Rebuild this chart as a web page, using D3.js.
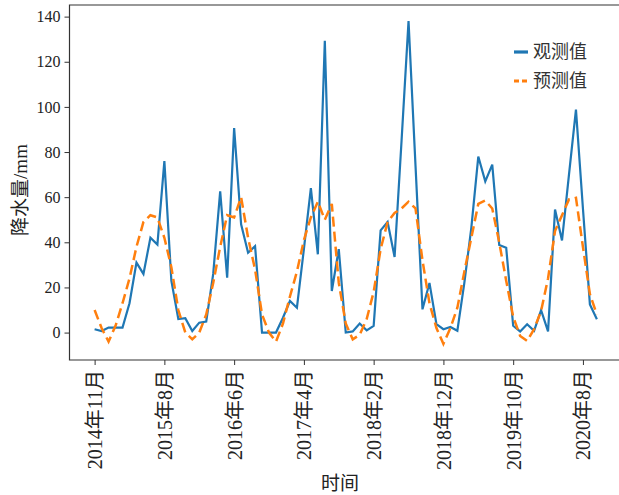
<!DOCTYPE html>
<html>
<head>
<meta charset="utf-8">
<script src="https://cdn.jsdelivr.net/npm/d3@7"></script>
<style>
  body { margin: 0; background: #fff; }
  text { font-family: "Liberation Serif", "Noto Sans CJK SC", serif; fill: #222; }
</style>
</head>
<body>
<svg id="chart" width="619" height="495"></svg>
<script>
// 观测值（月降水量, mm）
const observed = [1.5, 0.7, 2.2, 2.2, 2.2, 13, 31, 26, 42, 39, 76, 23,
    6, 6.4, 0.7, 4.4, 4.9, 26, 62.6, 24.3, 90.6, 48, 35.4, 38.3,
    0, 0, 0, 6.6, 14, 11, 37, 64, 34.7, 129.3, 18.4, 37,
    0, 0.5, 4, 1, 3, 45.3, 49, 33.5, 85, 138, 74, 10.3,
    22, 3.7, 1.5, 2.5, 0.8, 22, 46.4, 78, 67, 74.4, 38.8, 37.6,
    3, 0.5, 3.7, 0.8, 9.9, 0.5, 54.5, 40.8, 70, 98.8, 55, 12.5, 5.9];
// 预测值
const predicted = [10, 2, -4, 3, 13, 24, 38, 49, 52, 51, 42, 29,
    10, 0, -3, 0, 8, 22, 38, 52, 51, 60, 42, 28,
    8, 0, -4, 4, 16, 27, 41, 51, 58, 50, 57, 22,
    4, -3, -1, 6, 18, 37, 49, 53, 55, 58, 55, 32,
    13, 2, -5, 2, 11, 27, 42, 57, 58.5, 55, 40, 23,
    7, -1.5, -3.7, 1.5, 9.6, 24, 45, 52, 59, 59.7, 38, 17, 8];
const xTickIndex = [0, 10, 20, 30, 40, 50, 60, 70];
const xTickLabels = ["2014年11月", "2015年8月", "2016年6月", "2017年4月",
    "2018年2月", "2018年12月", "2019年10月", "2020年8月"];
const yTicks = [0, 20, 40, 60, 80, 100, 120, 140];
const seriesNames = ["观测值", "预测值"];

const svg = d3.select("#chart");
const plotL = 69.5, plotR = 622, plotT = 5, plotB = 360;

const n = observed.length - 1;
const x = d3.scaleLinear().domain([-n * 0.05, n * 1.05]).range([plotL, plotR]);
const all = observed.concat(predicted);
const lo = d3.min(all), hi = d3.max(all), pad = (hi - lo) * 0.05;
const y = d3.scaleLinear().domain([lo - pad, hi + pad]).range([plotB, plotT]);

// x轴
const xAxis = svg.append("g")
    .attr("transform", `translate(0,${plotB})`)
    .call(d3.axisBottom(x).tickValues(xTickIndex).tickFormat((d, i) => xTickLabels[i]).tickSize(5).tickSizeOuter(0));
xAxis.select(".domain").remove();
xAxis.selectAll("line").attr("stroke", "#333");
xAxis.selectAll("text")
    .attr("transform", "rotate(-90)")
    .attr("text-anchor", "end")
    .attr("dominant-baseline", "central")
    .attr("x", -10)
    .attr("y", 0)
    .attr("dy", null)
    .style("font-size", "20px");

// y轴
const yAxis = svg.append("g")
    .attr("transform", `translate(${plotL},0)`)
    .call(d3.axisLeft(y).tickValues(yTicks).tickSize(5).tickPadding(4));
yAxis.select(".domain").remove();
yAxis.selectAll("line").attr("stroke", "#333");
yAxis.selectAll("text").style("font-size", "16px");

// 边框
svg.append("path")
    .attr("d", `M${plotR},${plotT} H${plotL} V${plotB} H${plotR}`)
    .attr("fill", "none")
    .attr("stroke", "#333")
    .attr("stroke-width", 1.2);

const line = d3.line().x((d, i) => x(i)).y(d => y(d));

svg.append("path")
    .datum(observed)
    .attr("d", line)
    .attr("fill", "none")
    .attr("stroke", "#1f77b4")
    .attr("stroke-width", 2.2);

svg.append("path")
    .datum(predicted)
    .attr("d", line)
    .attr("fill", "none")
    .attr("stroke", "#ff7f0e")
    .attr("stroke-width", 2.5)
    .attr("stroke-dasharray", "10,5");

// 坐标轴标题
svg.append("text")
    .attr("transform", `translate(20,190) rotate(-90)`)
    .attr("text-anchor", "middle")
    .attr("dominant-baseline", "central")
    .style("font-size", "19px")
    .text("降水量/mm");

svg.append("text")
    .attr("x", 340)
    .attr("y", 483)
    .attr("text-anchor", "middle")
    .attr("dominant-baseline", "central")
    .style("font-size", "19px")
    .text("时间");

// 图例
const legend = svg.append("g");
const legendColors = ["#1f77b4", "#ff7f0e"];
seriesNames.forEach((name, i) => {
    const ly = 52 + i * 29;
    legend.append("line")
        .attr("x1", 514).attr("x2", 528)
        .attr("y1", ly).attr("y2", ly)
        .attr("stroke", legendColors[i])
        .attr("stroke-width", 3.2)
        .attr("stroke-dasharray", i === 0 ? null : "5,3");
    legend.append("text")
        .attr("x", 533)
        .attr("y", ly)
        .attr("dominant-baseline", "central")
        .style("font-size", "18px")
        .style("fill", "#333")
        .text(name);
});
</script>
</body>
</html>
